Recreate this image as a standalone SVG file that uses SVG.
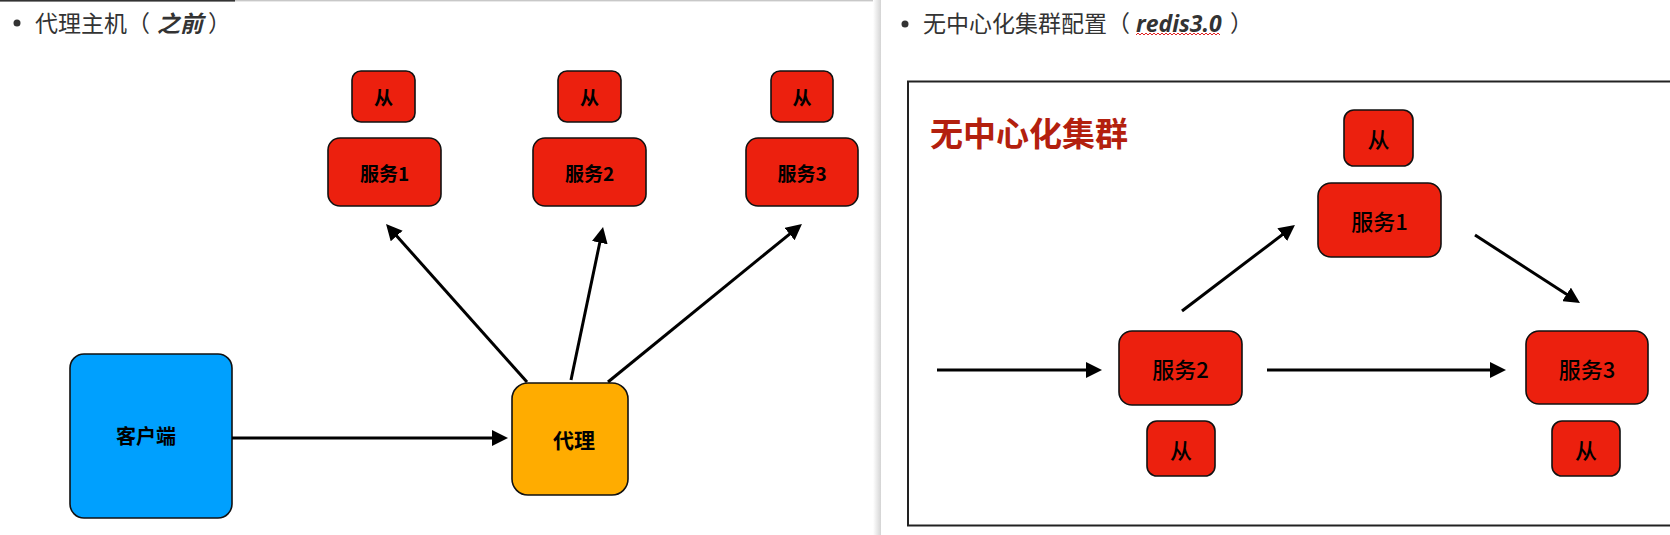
<svg xmlns="http://www.w3.org/2000/svg" width="1670" height="535" viewBox="0 0 1670 535">
<defs>
<marker id="ah" markerUnits="userSpaceOnUse" markerWidth="16" markerHeight="16" refX="6" refY="8" orient="auto" viewBox="0 0 16 16">
<path d="M0,0 L16,8 L0,16 z" fill="#000"/>
</marker>
<linearGradient id="shadow" x1="0" y1="0" x2="1" y2="0">
<stop offset="0" stop-color="#ffffff"/>
<stop offset="1" stop-color="#d4d4d4"/>
</linearGradient>
</defs>
<style>
.hdr{font-family:"Noto Sans CJK SC","Noto Sans",sans-serif;font-size:23px;fill:#333}
.em{font-family:"Open Sans","Noto Sans CJK SC",sans-serif;font-weight:bold;font-style:italic;fill:#333}
.red{fill:#ec200e;stroke:#111;stroke-width:1.6}
.lbl{font-family:"Noto Sans CJK SC","Noto Sans",sans-serif;font-weight:bold;fill:#000;text-anchor:middle;dominant-baseline:central}
.lblr{font-family:"Noto Sans CJK SC","Noto Sans",sans-serif;font-weight:500;fill:#000;text-anchor:middle;dominant-baseline:central;font-size:22px}
.conn line{stroke:#000;stroke-width:3;marker-end:url(#ah)}
</style>
<rect x="0" y="0" width="1670" height="535" fill="#fff"/>
<!-- page chrome -->
<rect x="0" y="0" width="235" height="1.6" fill="#333"/>
<rect x="235" y="0" width="645" height="1.4" fill="#c8c8c8"/>
<rect x="873" y="0" width="8" height="535" fill="url(#shadow)"/>
<!-- headers -->
<circle cx="17" cy="23" r="3.5" fill="#333"/>
<text class="hdr" x="35" y="32">代理主机（</text>
<text class="hdr em" x="157" y="32" style="font-family:'Noto Sans CJK SC',sans-serif">之前</text>
<text class="hdr" x="208" y="32">）</text>
<circle cx="905" cy="24" r="3.5" fill="#333"/>
<text class="hdr" x="923" y="32">无中心化集群配置（</text>
<text class="em" x="1136" y="32" font-size="23">redis3.0</text>
<path d="M1136,35 l2,-2 l2,2 l2,-2 l2,2 l2,-2 l2,2 l2,-2 l2,2 l2,-2 l2,2 l2,-2 l2,2 l2,-2 l2,2 l2,-2 l2,2 l2,-2 l2,2 l2,-2 l2,2 l2,-2 l2,2 l2,-2 l2,2 l2,-2 l2,2 l2,-2 l2,2 l2,-2 l2,2 l2,-2 l2,2 l2,-2 l2,2 l2,-2 l2,2 l2,-2 l2,2 l2,-2 l2,2 l2,-2 l2,2" fill="none" stroke="#e02020" stroke-width="1"/>
<text class="hdr" x="1230" y="32">）</text>
<!-- left diagram -->
<g id="slave1"><rect class="red" x="352" y="71" width="63" height="51" rx="9"/><text class="lbl" x="383.5" y="96.5" font-size="19">从</text></g>
<g id="svc1"><rect class="red" x="328" y="138" width="113" height="68" rx="12"/><text class="lbl" x="384.5" y="172" font-size="19">服务1</text></g>
<g id="slave2"><rect class="red" x="558" y="71" width="63" height="51" rx="9"/><text class="lbl" x="589.5" y="96.5" font-size="19">从</text></g>
<g id="svc2"><rect class="red" x="533" y="138" width="113" height="68" rx="12"/><text class="lbl" x="589.5" y="172" font-size="19">服务2</text></g>
<g id="slave3"><rect class="red" x="771" y="71" width="62" height="51" rx="9"/><text class="lbl" x="802" y="96.5" font-size="19">从</text></g>
<g id="svc3"><rect class="red" x="746" y="138" width="112" height="68" rx="12"/><text class="lbl" x="802" y="172" font-size="19">服务3</text></g>
<g id="client"><rect x="70" y="354" width="162" height="164" rx="14" fill="#00a0fe" stroke="#111" stroke-width="1.6"/><text class="lbl" x="146" y="435" font-size="20">客户端</text></g>
<g id="proxy"><rect x="512" y="383" width="116" height="112" rx="16" fill="#ffac00" stroke="#111" stroke-width="1.6"/><text class="lbl" x="574" y="439" font-size="21">代理</text></g>
<!-- right diagram -->
<g id="cluster-frame"><rect x="908" y="81.5" width="780" height="444" fill="none" stroke="#222" stroke-width="2"/><text x="930" y="146" font-family="'Noto Sans CJK SC',sans-serif" font-weight="bold" font-size="33" fill="#b3200e">无中心化集群</text></g>
<g id="r-slave1"><rect class="red" x="1344" y="110" width="69" height="56" rx="10"/><text class="lblr" x="1378.5" y="138">从</text></g>
<g id="r-svc1"><rect class="red" x="1318" y="183" width="123" height="74" rx="13"/><text class="lblr" x="1379.5" y="220">服务1</text></g>
<g id="r-svc2"><rect class="red" x="1119" y="331" width="123" height="74" rx="13"/><text class="lblr" x="1180.5" y="368">服务2</text></g>
<g id="r-slave2"><rect class="red" x="1147" y="421" width="68" height="55" rx="10"/><text class="lblr" x="1181" y="448.5">从</text></g>
<g id="r-svc3"><rect class="red" x="1526" y="331" width="122" height="73" rx="13"/><text class="lblr" x="1587" y="367.5">服务3</text></g>
<g id="r-slave3"><rect class="red" x="1552" y="421" width="68" height="55" rx="10"/><text class="lblr" x="1586" y="448.5">从</text></g>
<!-- connectors -->
<g id="connectors" class="conn">
<line x1="232" y1="438" x2="498" y2="438"/>
<line x1="527" y1="382" x2="392.7" y2="231.5"/>
<line x1="571" y1="380" x2="601" y2="236.8"/>
<line x1="608" y1="382" x2="794.2" y2="230.3"/>
<line x1="937" y1="370" x2="1092" y2="370"/>
<line x1="1182" y1="311" x2="1287" y2="231.1"/>
<line x1="1475" y1="235" x2="1571.6" y2="297.6"/>
<line x1="1267" y1="370" x2="1496" y2="370"/>
</g>
</svg>
